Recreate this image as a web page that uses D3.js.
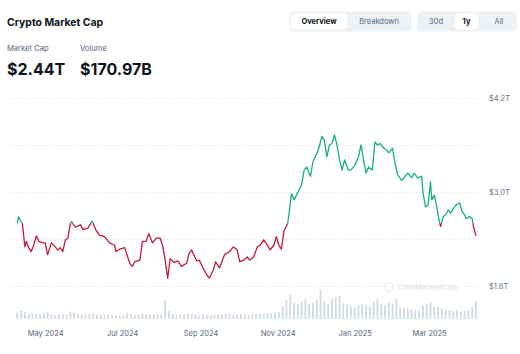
<!DOCTYPE html>
<html>
<head>
<meta charset="utf-8">
<script src="https://cdn.jsdelivr.net/npm/d3@7"></script>
<style>
  body { margin: 0; background: #fff; }
  svg { display: block; font-family: Inter, "Noto Sans", sans-serif; }
</style>
</head>
<body>
<svg id="chart"></svg>
<script>
var WIDTH = 520;
var HEIGHT = 354;

// market cap, trillions of USD
var capDates = [
  "2024-04-09","2024-04-10","2024-04-12","2024-04-13","2024-04-15","2024-04-16","2024-04-18","2024-04-20","2024-04-22","2024-04-24",
  "2024-04-26","2024-04-29","2024-05-01","2024-05-03","2024-05-06","2024-05-09","2024-05-11","2024-05-13","2024-05-15","2024-05-17",
  "2024-05-19","2024-05-21","2024-05-22","2024-05-25","2024-05-29","2024-05-31","2024-06-04","2024-06-07","2024-06-08","2024-06-10",
  "2024-06-13","2024-06-17","2024-06-21","2024-06-25","2024-06-26","2024-06-29","2024-07-03","2024-07-07","2024-07-09","2024-07-11",
  "2024-07-15","2024-07-17","2024-07-20","2024-07-22","2024-07-25","2024-07-28","2024-07-31","2024-08-02","2024-08-04","2024-08-06",
  "2024-08-08","2024-08-11","2024-08-14","2024-08-17","2024-08-21","2024-08-23","2024-08-25","2024-08-26","2024-08-29","2024-08-31",
  "2024-09-03","2024-09-06","2024-09-08","2024-09-11","2024-09-13","2024-09-16","2024-09-20","2024-09-24","2024-09-27","2024-09-30",
  "2024-10-02","2024-10-05","2024-10-08","2024-10-10","2024-10-13","2024-10-16","2024-10-18","2024-10-21","2024-10-24","2024-10-26",
  "2024-10-29","2024-10-31","2024-11-02","2024-11-04","2024-11-06","2024-11-09","2024-11-10","2024-11-12","2024-11-14","2024-11-16",
  "2024-11-18","2024-11-20","2024-11-22","2024-11-24","2024-11-27","2024-11-29","2024-12-02","2024-12-04","2024-12-06","2024-12-08",
  "2024-12-10","2024-12-12","2024-12-14","2024-12-16","2024-12-18","2024-12-20","2024-12-22","2024-12-24","2024-12-27","2024-12-29",
  "2025-01-01","2025-01-04","2025-01-06","2025-01-08","2025-01-10","2025-01-12","2025-01-15","2025-01-17","2025-01-19","2025-01-21",
  "2025-01-24","2025-01-26","2025-01-28","2025-01-31","2025-02-01","2025-02-02","2025-02-04","2025-02-07","2025-02-09","2025-02-12",
  "2025-02-15","2025-02-17","2025-02-20","2025-02-23","2025-02-24","2025-02-26","2025-02-28","2025-03-02","2025-03-03","2025-03-05",
  "2025-03-07","2025-03-09","2025-03-10","2025-03-12","2025-03-14","2025-03-16","2025-03-18","2025-03-20","2025-03-22","2025-03-25",
  "2025-03-27","2025-03-29","2025-03-30","2025-04-02","2025-04-04","2025-04-05","2025-04-07"
];
var capValues = [
  2.60, 2.685, 2.62, 2.60, 2.30, 2.37, 2.29, 2.24, 2.32, 2.44,
  2.37, 2.35, 2.35, 2.20, 2.35, 2.30, 2.26, 2.29, 2.24, 2.39,
  2.41, 2.60, 2.62, 2.55, 2.58, 2.52, 2.54, 2.63, 2.60, 2.52,
  2.45, 2.43, 2.35, 2.32, 2.24, 2.27, 2.29, 2.09, 2.05, 2.11,
  2.13, 2.37, 2.37, 2.47, 2.35, 2.41, 2.41, 2.32, 2.13, 1.90,
  2.15, 2.10, 2.12, 2.05, 2.09, 2.22, 2.26, 2.22, 2.12, 2.13,
  2.03, 1.94, 1.90, 2.00, 2.11, 2.03, 2.20, 2.24, 2.30, 2.26,
  2.11, 2.13, 2.17, 2.13, 2.17, 2.30, 2.32, 2.39, 2.32, 2.26,
  2.32, 2.43, 2.32, 2.27, 2.50, 2.60, 2.72, 2.98, 2.90, 2.96,
  3.03, 3.09, 3.28, 3.32, 3.20, 3.39, 3.49, 3.58, 3.71, 3.66,
  3.45, 3.60, 3.62, 3.73, 3.60, 3.41, 3.28, 3.41, 3.28, 3.28,
  3.34, 3.45, 3.60, 3.41, 3.24, 3.32, 3.28, 3.64, 3.60, 3.62,
  3.56, 3.54, 3.50, 3.56, 3.45, 3.37, 3.22, 3.15, 3.18, 3.24,
  3.18, 3.24, 3.18, 3.20, 3.00, 2.81, 2.83, 3.13, 2.90, 2.96,
  2.81, 2.62, 2.56, 2.685, 2.71, 2.77, 2.73, 2.79, 2.83, 2.86,
  2.75, 2.71, 2.66, 2.685, 2.66, 2.56, 2.44
];

// 24h volume, billions of USD, one reading every 3 days from volStart
var volStart = "2024-04-09";
var volValues = [
  110, 150, 120, 95, 100, 85, 90, 100,
  120, 80, 70, 75, 85, 70, 130, 110, 90, 80,
  70, 85, 95, 70, 65, 75, 80, 70, 60, 55,
  80, 110, 95, 70, 75, 90, 85, 80, 85, 75,
  95, 330, 140, 90, 70, 75, 80, 95, 85, 80,
  60, 85, 75, 65, 70, 80, 75, 85, 90, 80,
  85, 90, 75, 70, 80, 85, 95, 90, 100, 105, 110,
  120, 220, 330, 420, 280, 250, 300, 340, 260, 280,
  330, 500, 300, 260, 350, 380, 400, 280, 250, 220,
  200, 230, 260, 240, 220, 300, 340, 250, 230, 280,
  260, 350, 210, 190, 180, 170, 160, 150, 240, 250,
  290, 210, 220, 180, 160, 150, 140, 150, 130, 140, 160, 200, 310
];

var gridValues = [1.8, 2.4, 3.0, 3.6, 4.2];
var yTickValues = [1.8, 3.0, 4.2];
var xTickDates = ["2024-05-01", "2024-07-01", "2024-09-01", "2024-11-01", "2025-01-01", "2025-03-01"];

var parse = d3.utcParse("%Y-%m-%d");
var capData = capDates.map(function(d, i) { return {date: parse(d), value: capValues[i]}; });
var volData = volValues.map(function(v, i) {
  return {date: d3.utcDay.offset(parse(volStart), i * 3), value: v};
});

var GREEN = "#16b07c";
var RED = "#c3193a";
var GREY = "#58667e";

var svg = d3.select("#chart")
    .attr("width", WIDTH)
    .attr("height", HEIGHT);

svg.append("rect").attr("width", WIDTH).attr("height", HEIGHT).attr("fill", "#fff");

// header
svg.append("text").attr("x", 7).attr("y", 26)
    .attr("font-size", 10.4).attr("font-weight", 700).attr("fill", "#0d1421")
    .text("Crypto Market Cap");

var stats = [
  {label: "Market Cap", value: "$2.44T", x: 7},
  {label: "Volume", value: "$170.97B", x: 80}
];
stats.forEach(function(s) {
  svg.append("text").attr("x", s.x).attr("y", 50.5)
      .attr("font-size", 7.6).attr("fill", GREY).text(s.label);
  svg.append("text").attr("x", s.x).attr("y", 74.5)
      .attr("font-size", 16).attr("font-weight", 700).attr("fill", "#0d1421")
      .text(s.value);
});

// toggle buttons
var groups = [
  {x: 289, w: 123, buttons: [
    {text: "Overview", cx: 319, w: 56, on: true},
    {text: "Breakdown", cx: 379, w: 62, on: false}]},
  {x: 417, w: 100, buttons: [
    {text: "30d", cx: 436, w: 30, on: false},
    {text: "1y", cx: 466.5, w: 23, on: true},
    {text: "All", cx: 499, w: 26, on: false}]}
];
groups.forEach(function(g) {
  svg.append("rect").attr("x", g.x).attr("y", 11.5).attr("width", g.w).attr("height", 20)
      .attr("rx", 5).attr("fill", "#eff2f5");
  g.buttons.forEach(function(b) {
    if (b.on) {
      svg.append("rect").attr("x", b.cx - b.w / 2).attr("y", 13.5)
          .attr("width", b.w).attr("height", 16).attr("rx", 4).attr("fill", "#fff");
    }
    svg.append("text").attr("x", b.cx).attr("y", 24.3)
        .attr("text-anchor", "middle").attr("font-size", 7.5)
        .attr("font-weight", b.on ? 700 : 400)
        .attr("fill", b.on ? "#0d1421" : GREY)
        .text(b.text);
  });
});

// scales
var x = d3.scaleUtc()
    .domain([parse(capDates[0]), parse(capDates[capDates.length - 1])])
    .range([17.3, 476]);
var y = d3.scaleLinear().domain([1.8, 4.2]).range([286, 98]);
var yVol = d3.scaleLinear().domain([0, 520]).range([319, 289]);

// grid
svg.append("g").selectAll("line")
    .data(gridValues).enter().append("line")
    .attr("x1", 11).attr("x2", 478)
    .attr("y1", function(d) { return y(d) + 0.5; })
    .attr("y2", function(d) { return y(d) + 0.5; })
    .attr("stroke", "#dfe3ea").attr("stroke-width", 1)
    .attr("stroke-dasharray", "1,2");

// right axis labels
var yAxis = svg.append("g").attr("transform", "translate(485,0)")
    .call(d3.axisRight(y).tickValues(yTickValues).tickSize(0).tickPadding(4)
        .tickFormat(function(d) { return "$" + d.toFixed(1) + "T"; }));
yAxis.select(".domain").remove();
yAxis.selectAll("text").attr("font-size", 7.5).attr("fill", "#6b7588")
    .attr("font-family", "Inter, sans-serif");

// watermark
var wm = svg.append("g").attr("opacity", 0.3);
wm.append("circle").attr("cx", 389).attr("cy", 287).attr("r", 4.5)
    .attr("fill", "none").attr("stroke", "#a6b0c3").attr("stroke-width", 1);
wm.append("text").attr("x", 397).attr("y", 290).attr("font-size", 8)
    .attr("font-weight", 600).attr("fill", "#a6b0c3").text("CoinMarketCap");

// volume bars
svg.append("g").selectAll("rect")
    .data(volData).enter().append("rect")
    .attr("x", function(d) { return x(d.date) - 0.9; })
    .attr("width", 1.8)
    .attr("y", function(d) { return yVol(d.value); })
    .attr("height", function(d) { return yVol(0) - yVol(d.value); })
    .attr("fill", "#d2d8e4");

// line, green above the opening value, red below
var base = y(capValues[0]);
var defs = svg.append("defs");
defs.append("clipPath").attr("id", "above").append("rect")
    .attr("x", 0).attr("y", 0).attr("width", WIDTH).attr("height", base);
defs.append("clipPath").attr("id", "below").append("rect")
    .attr("x", 0).attr("y", base).attr("width", WIDTH).attr("height", HEIGHT - base);

var line = d3.line()
    .x(function(d) { return x(d.date); })
    .y(function(d) { return y(d.value); });

[["above", GREEN], ["below", RED]].forEach(function(p) {
  svg.append("path").datum(capData)
      .attr("clip-path", "url(#" + p[0] + ")")
      .attr("fill", "none").attr("stroke", p[1])
      .attr("stroke-width", 1.3).attr("stroke-linejoin", "round")
      .attr("d", line);
});

// bottom axis
var xAxis = svg.append("g").attr("transform", "translate(0,327)")
    .call(d3.axisBottom(x).tickValues(xTickDates.map(parse)).tickSize(0).tickPadding(4)
        .tickFormat(d3.utcFormat("%b %Y")));
xAxis.select(".domain").remove();
xAxis.selectAll("text").attr("font-size", 7.5).attr("fill", GREY)
    .attr("font-family", "Inter, sans-serif");
</script>
</body>
</html>
